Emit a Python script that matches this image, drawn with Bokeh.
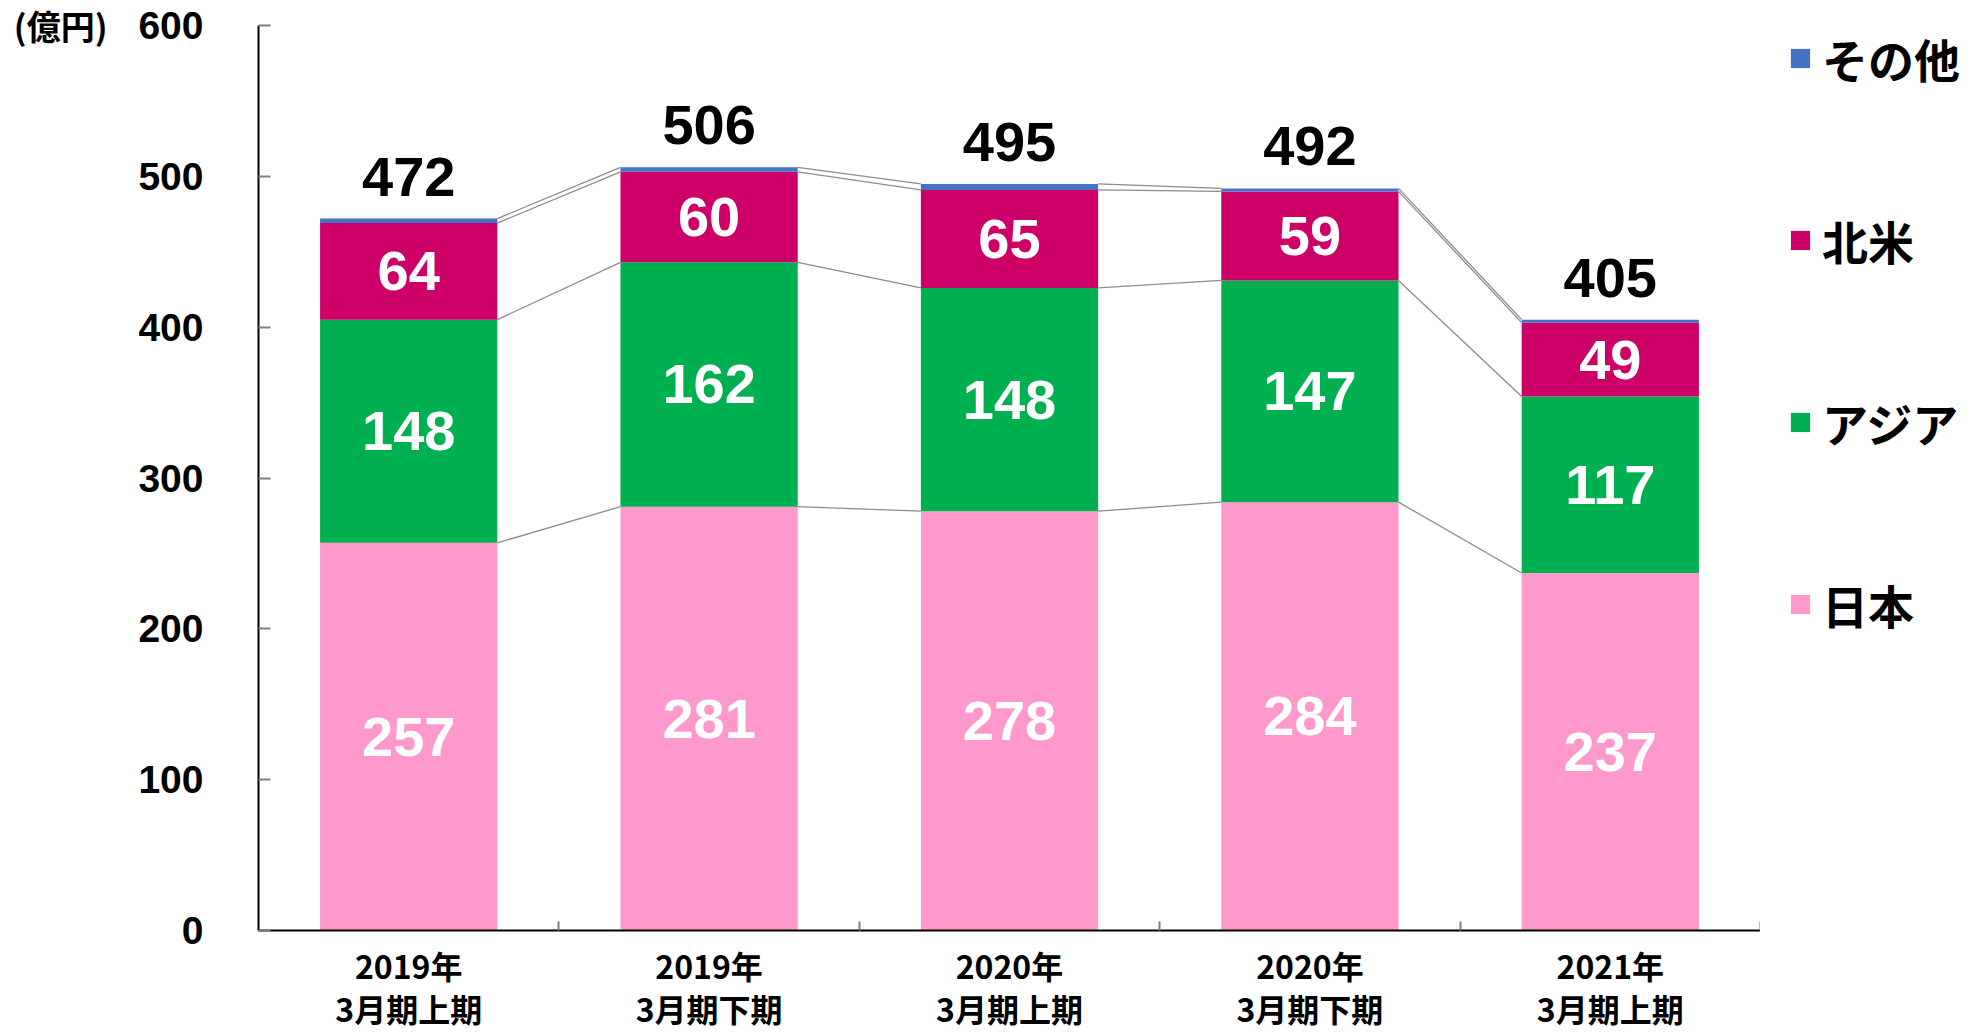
from bokeh.plotting import figure
from bokeh.layouts import row
from bokeh.models import Range1d, FixedTicker, Legend, LegendItem, LinearAxis
from bokeh.core.properties import value
from bokeh.embed import file_html
from bokeh.resources import INLINE

# ---- data ----
period_year = ["2019年", "2019年", "2020年", "2020年", "2021年"]
period_half = ["3月期上期", "3月期下期", "3月期上期", "3月期下期", "3月期上期"]
japan = [257, 281, 278, 284, 237]
asia = [148, 162, 148, 147, 117]
north_america = [64, 60, 65, 59, 49]
other = [3, 3, 4, 2, 2]
totals = [472, 506, 495, 492, 405]
series_names = ["日本", "アジア", "北米", "その他"]
series_colors = ["#FF99CC", "#00B050", "#CC0066", "#4472C4"]
y_ticks = [0, 100, 200, 300, 400, 500, 600]
unit_label = "(億円)"

n = len(japan)
xs = [i + 0.5 for i in range(n)]
bar_w = 0.59
series = [japan, asia, north_america, other]

p = figure(width=1760, height=1034, x_range=Range1d(0, n), y_range=Range1d(0, 600),
           output_backend="svg", toolbar_location=None,
           min_border_left=258, min_border_right=0, min_border_top=25, min_border_bottom=102)
p.outline_line_color = None
p.xgrid.grid_line_color = None
p.ygrid.grid_line_color = None
p.background_fill_color = "white"

data = {"x": xs}
for name, vals in zip(series_names, series):
    data[name] = vals
renderers = p.vbar_stack(series_names, x="x", width=bar_w, source=data,
                         color=series_colors, line_color=None)

# connector lines between stacks
cum = []
running = [0] * n
for vals in series:
    running = [a + b for a, b in zip(running, vals)]
    cum.append(list(running))
x0, y0, x1, y1 = [], [], [], []
for level in cum:
    for i in range(n - 1):
        x0.append(xs[i] + bar_w / 2)
        y0.append(level[i])
        x1.append(xs[i + 1] - bar_w / 2)
        y1.append(level[i + 1])
p.segment(x0=x0, y0=y0, x1=x1, y1=y1, line_color="#8C8C8C", line_width=1.3)

# segment labels (first three series)
lx, ly, lt = [], [], []
base = [0] * n
for vals in series[:3]:
    for i in range(n):
        lx.append(xs[i])
        ly.append(base[i] + vals[i] / 2)
        lt.append(str(vals[i]))
    base = [a + b for a, b in zip(base, vals)]
p.text(x=lx, y=ly, text=lt, text_color="white", text_font=value("Liberation Sans"),
       text_font_style="bold", text_font_size="56px", text_align="center",
       text_baseline="middle")

# total labels
p.text(x=xs, y=totals, text=[str(t) for t in totals], text_color="black",
       text_font=value("Liberation Sans"), text_font_style="bold",
       text_font_size="56px", text_align="center", text_baseline="middle", y_offset=-42)

# axes
yax = p.yaxis[0]
yax.ticker = FixedTicker(ticks=y_ticks)
yax.axis_line_color = "black"
yax.axis_line_width = 2
yax.major_tick_in = 12
yax.major_tick_out = 0
yax.major_tick_line_color = "#7F7F7F"
yax.major_tick_line_width = 2
yax.minor_tick_line_color = None
yax.major_label_text_font = "Liberation Sans"
yax.major_label_text_font_style = "bold"
yax.major_label_text_font_size = "39px"
yax.major_label_text_color = "black"
yax.major_label_standoff = 55

# unit label as an extra (invisible) left axis with one tick at the top
uax = LinearAxis(ticker=FixedTicker(ticks=[y_ticks[-1]]),
                 major_label_overrides={y_ticks[-1]: unit_label})
uax.axis_line_color = None
uax.major_tick_line_color = None
uax.minor_tick_line_color = None
uax.major_tick_in = 0
uax.major_tick_out = 0
uax.major_label_text_font = "Noto Sans CJK JP"
uax.major_label_text_font_style = "bold"
uax.major_label_text_font_size = "34px"
uax.major_label_text_color = "black"
uax.major_label_standoff = 28
p.add_layout(uax, "left")

xax = p.xaxis[0]
xax.ticker = FixedTicker(ticks=xs, minor_ticks=[i + 1 for i in range(n)])
xax.major_label_overrides = {xs[i]: period_year[i] + "\n" + period_half[i] for i in range(n)}
xax.axis_line_color = "black"
xax.axis_line_width = 2
xax.major_tick_line_color = None
xax.major_tick_in = 0
xax.major_tick_out = 0
xax.minor_tick_in = 9
xax.minor_tick_out = 0
xax.minor_tick_line_color = "#7F7F7F"
xax.minor_tick_line_width = 2
xax.major_label_text_font = "Noto Sans CJK JP"
xax.major_label_text_font_style = "bold"
xax.major_label_text_font_size = "32px"
xax.major_label_text_color = "black"
xax.major_label_text_line_height = 0.95
xax.major_label_standoff = 11

# legend in its own narrow figure to the right (swatch renderers sit outside its view)
lg = figure(width=217, height=1034, x_range=Range1d(0, 1), y_range=Range1d(0, 1),
            output_backend="svg", toolbar_location=None,
            x_axis_type=None, y_axis_type=None,
            min_border_left=28, min_border_right=0, min_border_top=4, min_border_bottom=0)
lg.outline_line_color = None
lg.xgrid.grid_line_color = None
lg.ygrid.grid_line_color = None
swatches = {}
for name, c in zip(series_names, series_colors):
    swatches[name] = lg.vbar(x=[5], top=[5], bottom=[4], width=0.1,
                             fill_color=c, line_color=None)
items = [LegendItem(label=nm, renderers=[swatches[nm]]) for nm in reversed(series_names)]
legend = Legend(items=items, location="top_left", orientation="vertical",
                glyph_width=24, glyph_height=24, label_height=52, label_standoff=10,
                spacing=116, padding=0, margin=0, border_line_color=None,
                background_fill_alpha=0, label_text_font="Noto Sans CJK JP",
                label_text_font_style="bold", label_text_font_size="46px",
                label_text_color="black")
lg.add_layout(legend, "center")

layout = row(p, lg)
open("out.html", "w").write(file_html(layout, INLINE))
